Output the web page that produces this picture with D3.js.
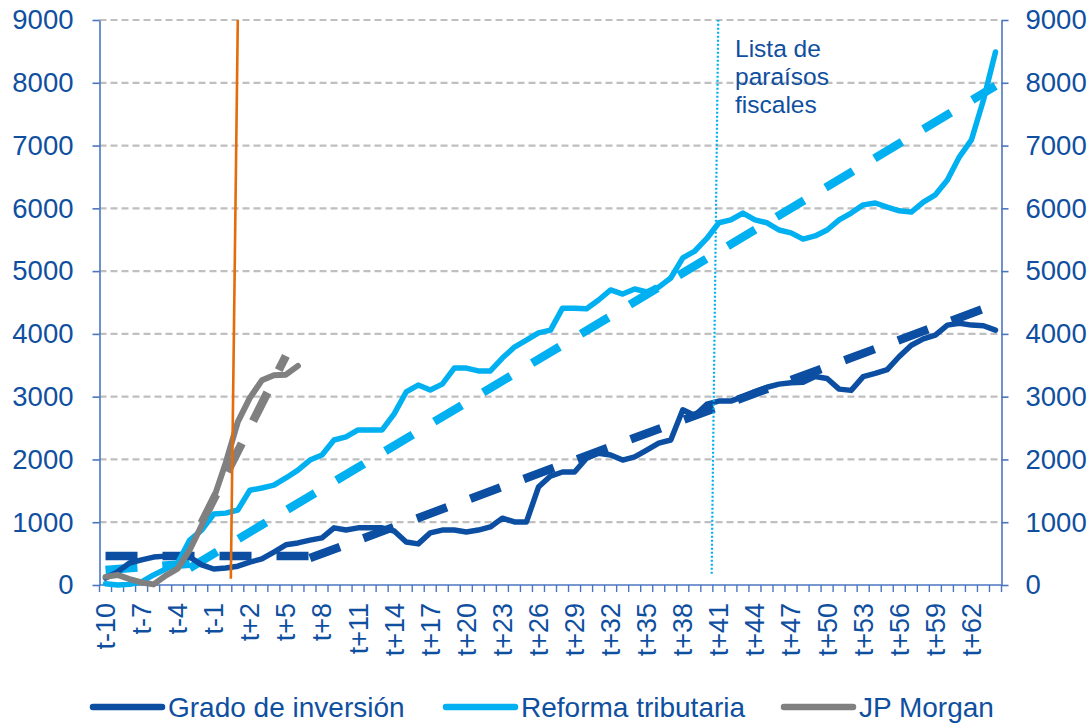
<!DOCTYPE html>
<html>
<head>
<meta charset="utf-8">
<script src="https://cdn.jsdelivr.net/npm/d3@7"></script>
<style>
  html, body { margin: 0; padding: 0; background: #ffffff; }
  svg { display: block; font-family: "Liberation Sans", Arial, sans-serif; }
</style>
</head>
<body>
<script>
// ---------------- DATA ----------------
const categories = ["t-10","t-9","t-8","t-7","t-6","t-5","t-4","t-3","t-2","t-1",
  "t0","t+1","t+2","t+3","t+4","t+5","t+6","t+7","t+8","t+9",
  "t+10","t+11","t+12","t+13","t+14","t+15","t+16","t+17","t+18","t+19",
  "t+20","t+21","t+22","t+23","t+24","t+25","t+26","t+27","t+28","t+29",
  "t+30","t+31","t+32","t+33","t+34","t+35","t+36","t+37","t+38","t+39",
  "t+40","t+41","t+42","t+43","t+44","t+45","t+46","t+47","t+48","t+49",
  "t+50","t+51","t+52","t+53","t+54","t+55","t+56","t+57","t+58","t+59",
  "t+60","t+61","t+62","t+63","t+64"];

const xTickLabels = ["t-10","t-7","t-4","t-1","t+2","t+5","t+8","t+11","t+14","t+17",
  "t+20","t+23","t+26","t+29","t+32","t+35","t+38","t+41","t+44","t+47",
  "t+50","t+53","t+56","t+59","t+62"];

const yTickValues = [0,1000,2000,3000,4000,5000,6000,7000,8000,9000];

// Grado de inversión (t-10 .. t+64)
const gradoInversion = [110,210,350,400,445,460,460,445,320,255,
  270,300,365,415,525,640,670,715,750,910,
  875,910,910,910,860,685,655,830,875,875,
  845,875,925,1065,1005,1005,1560,1735,1800,1800,
  2020,2100,2070,1990,2040,2150,2260,2310,2790,2700,
  2880,2930,2930,3000,3080,3150,3200,3220,3230,3320,
  3290,3120,3100,3320,3370,3430,3640,3820,3920,3980,
  4140,4170,4140,4130,4060];

// Reforma tributaria (t-10 .. t+64)
const reformaTributaria = [20,0,10,50,160,255,350,715,875,1130,
  1145,1195,1510,1545,1590,1705,1830,1990,2070,2310,
  2360,2470,2470,2470,2725,3075,3185,3105,3200,3455,
  3455,3410,3410,3615,3790,3900,4015,4060,4410,4410,
  4400,4540,4700,4635,4715,4670,4745,4890,5210,5320,
  5520,5770,5815,5925,5815,5770,5655,5610,5510,5560,
  5655,5815,5925,6055,6085,6020,5960,5940,6100,6215,
  6450,6820,7090,7725,8490];

// JP Morgan (t-10 .. t+6)
const jpMorgan = [130,160,95,40,10,150,260,560,950,1380,
  1950,2600,2980,3260,3340,3350,3490];

// Trend lines: [category, value] start and end
const gradoTrendPre  = [["t-10",460],["t+7",460]];
const gradoTrendPost = [["t+7",430],["t+64",4470]];
const reformaTrendPre  = [["t-10",240],["t-3",340]];
const reformaTrendPost = [["t-3",270],["t+64",7950]];
const jpTrend = [["t-2",990],["t+5",3650]];

// Event markers (position in category units, value)
const eventLineOrange = [[10.42,100],[11.0,9000]];
const eventLineTaxHaven = [[50.4,180],[50.95,9000]];
const annotationLines = ["Lista de","paraísos","fiscales"];

const legendItems = ["Grado de inversión","Reforma tributaria","JP Morgan"];

// ---------------- STYLE ----------------
const cDark = "#0B4EA2";
const cLight = "#00B0F0";
const cGray = "#808080";
const cOrange = "#E46C0A";
const cText = "#0F4FA0";
const cAxis = "#4A76C0";
const cGrid = "#BFBFBF";

const W = 1091, H = 724;
const svg = d3.select("body").append("svg").attr("width", W).attr("height", H);

const x = d3.scaleBand().domain(categories).range([99.5, 1001.5]).padding(0);
const cx = c => x(c) + x.bandwidth() / 2;
const xi = d3.scaleLinear().domain([-0.5, categories.length - 0.5]).range([99.5, 1001.5]);
const y = d3.scaleLinear().domain([0, 9000]).range([585, 20]);

// gridlines
svg.append("g").selectAll("line").data(yTickValues.filter(v => v > 0)).join("line")
  .attr("x1", 99.5).attr("x2", 1001.5)
  .attr("y1", d => y(d)).attr("y2", d => y(d))
  .attr("stroke", cGrid).attr("stroke-width", 2.2).attr("stroke-dasharray", "7,4");

// axes
const fmt = d3.format("d");
const yLeft = svg.append("g").attr("transform", "translate(99.5,0)")
  .call(d3.axisLeft(y).tickValues(yTickValues).tickFormat(fmt).tickSize(7).tickPadding(19).tickSizeOuter(0));
const yRight = svg.append("g").attr("transform", "translate(1001.5,0)")
  .call(d3.axisRight(y).tickValues(yTickValues).tickFormat(fmt).tickSize(7).tickPadding(17).tickSizeOuter(0));
[yLeft, yRight].forEach(g => {
  g.select(".domain").attr("stroke", cAxis).attr("stroke-width", 1.6);
  g.selectAll(".tick line").attr("stroke", cAxis).attr("stroke-width", 1.6);
  g.selectAll(".tick text").attr("fill", cText).attr("font-size", 27.5)
    .attr("font-family", "Liberation Sans, Arial, sans-serif");
});

// bottom axis
const xAxisG = svg.append("g");
xAxisG.append("line").attr("x1", 99.5).attr("x2", 1001.5).attr("y1", 585).attr("y2", 585)
  .attr("stroke", cAxis).attr("stroke-width", 1.6);
xAxisG.selectAll("line.tk").data(d3.range(categories.length + 1)).join("line")
  .attr("class", "tk")
  .attr("x1", d => xi(d - 0.5)).attr("x2", d => xi(d - 0.5))
  .attr("y1", 585).attr("y2", 592)
  .attr("stroke", cAxis).attr("stroke-width", 1.4);
xAxisG.selectAll("text").data(xTickLabels).join("text")
  .attr("transform", d => `translate(${cx(d)},603) rotate(-90)`)
  .attr("text-anchor", "end").attr("dy", "0.35em")
  .attr("fill", cText).attr("font-size", 27)
  .text(d => d);

// line generators
const line = d3.line().x((d, i) => cx(categories[i])).y(d => y(d)).curve(d3.curveLinear);
const segLine = d3.line().x(d => cx(d[0])).y(d => y(d[1]));
const idxLine = d3.line().x(d => xi(d[0])).y(d => y(d[1]));

// trend lines (dashed)
const trends = [
  [gradoTrendPre, cDark], [gradoTrendPost, cDark],
  [reformaTrendPre, cLight], [reformaTrendPost, cLight],
  [jpTrend, cGray]
];
trends.forEach(([d, c]) => {
  svg.append("path").attr("d", segLine(d)).attr("fill", "none")
    .attr("stroke", c).attr("stroke-width", 8.5).attr("stroke-dasharray", "32,25");
});

// solid series
[[gradoInversion, cDark, 5.5], [reformaTributaria, cLight, 5.5], [jpMorgan, cGray, 6]].forEach(([d, c, w]) => {
  svg.append("path").attr("d", line(d)).attr("fill", "none")
    .attr("stroke", c).attr("stroke-width", w).attr("stroke-linejoin", "round").attr("stroke-linecap", "round");
});

// event lines
svg.append("path").attr("d", idxLine(eventLineOrange)).attr("stroke", cOrange)
  .attr("stroke-width", 2.6).attr("fill", "none");
svg.append("path").attr("d", idxLine(eventLineTaxHaven)).attr("stroke", cLight)
  .attr("stroke-width", 2.2).attr("stroke-dasharray", "2,2").attr("fill", "none");

// annotation
svg.append("g").selectAll("text").data(annotationLines).join("text")
  .attr("x", 735).attr("y", (d, i) => 57 + i * 28)
  .attr("fill", cText).attr("font-size", 24.5).text(d => d);

// legend
const legendColors = [cDark, cLight, cGray];
const legendX = [93, 446, 784];
const lg = svg.append("g");
legendItems.forEach((name, i) => {
  lg.append("line").attr("x1", legendX[i]).attr("x2", legendX[i] + 69)
    .attr("y1", 707).attr("y2", 707).attr("stroke", legendColors[i])
    .attr("stroke-width", 6.5).attr("stroke-linecap", "round");
  lg.append("text").attr("x", legendX[i] + 75).attr("y", 707).attr("dy", "0.35em")
    .attr("fill", cText).attr("font-size", 28).text(name);
});
</script>
</body>
</html>
